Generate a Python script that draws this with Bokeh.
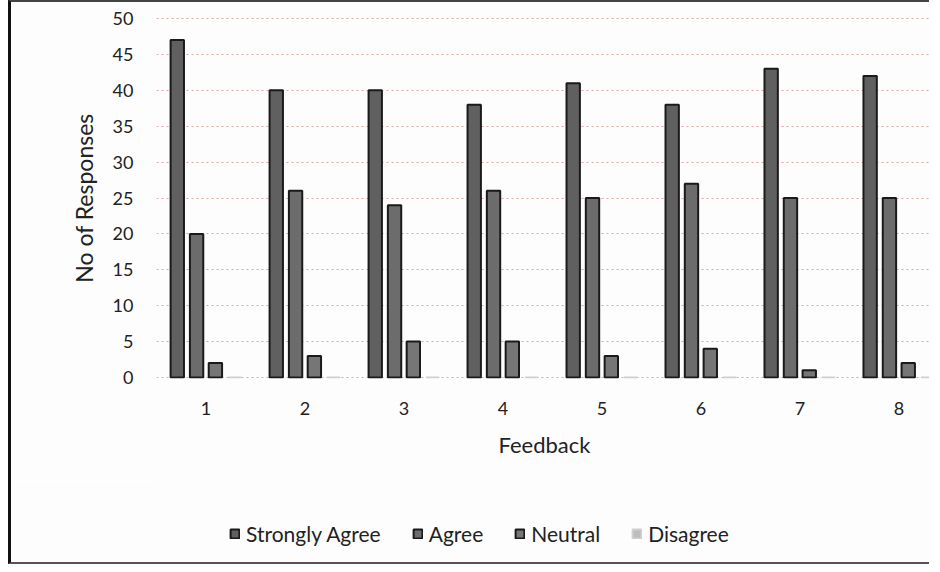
from bokeh.plotting import figure
from bokeh.models import Range1d, Legend, LegendItem, FixedTicker, ColumnDataSource, Spacer
from bokeh.layouts import row, column
from bokeh.embed import file_html
from bokeh.resources import INLINE

feedback = [1, 2, 3, 4, 5, 6, 7, 8]
tick_labels = ["1", "2", "3", "4", "5", "6", "7", "8"]
series_names = ["Strongly Agree", "Agree", "Neutral", "Disagree"]
strongly_agree = [47, 40, 40, 38, 41, 38, 43, 42]
agree = [20, 26, 24, 26, 25, 27, 25, 25]
neutral = [2, 3, 5, 5, 3, 4, 1, 2]
disagree = [0, 0, 0, 0, 0, 0, 0, 0]
y_ticks = [0, 5, 10, 15, 20, 25, 30, 35, 40, 45, 50]

series_values = [strongly_agree, agree, neutral, disagree]
fills = ["#606060", "#6c6c6c", "#767676", "#bdbdbd"]
outlines = ["#1a1a1a", "#1a1a1a", "#1a1a1a", "#cfcfcf"]
offsets = [-0.29, -0.095, 0.095, 0.29]
FONT = "Lato"
BG = "#fdfdfd"

p = figure(width=921, height=480, output_backend="svg", toolbar_location=None,
           x_range=Range1d(0.5, 8.34), y_range=Range1d(-0.15, 50.15),
           min_border_left=145, min_border_right=0, min_border_top=15, min_border_bottom=104,
           background_fill_color=BG, border_fill_color=BG)
p.outline_line_color = None

for name, vals, col, lc, off in zip(series_names, series_values, fills, outlines, offsets):
    src = ColumnDataSource(dict(x=[f + off for f in feedback], top=vals))
    p.vbar(x="x", top="top", bottom=0, width=0.135, source=src, fill_color=col,
           line_color=lc, line_width=2)

p.xgrid.grid_line_color = None
p.ygrid.grid_line_color = "#dca4a4"
p.ygrid.grid_line_dash = "2 3"
p.ygrid.grid_line_width = 1

p.yaxis.ticker = FixedTicker(ticks=y_ticks)
p.xaxis.ticker = FixedTicker(ticks=feedback)
p.xaxis.major_label_overrides = {f: t for f, t in zip(feedback, tick_labels)}

for ax in (p.xaxis[0], p.yaxis[0]):
    ax.axis_line_color = None
    ax.major_tick_line_color = None
    ax.minor_tick_line_color = None
    ax.major_label_text_font = FONT
    ax.major_label_text_font_size = "18px"
    ax.major_label_text_color = "#222222"
    ax.axis_label_text_font = FONT
    ax.axis_label_text_font_size = "22px"
    ax.axis_label_text_font_style = "normal"
    ax.axis_label_text_color = "#222222"

p.yaxis.axis_label = "No of Responses"
p.yaxis.axis_label_text_font_size = "23px"
p.yaxis.major_label_standoff = 17
p.yaxis.axis_label_standoff = 12
p.xaxis.axis_label = "Feedback"
p.xaxis.major_label_standoff = 17
p.xaxis.axis_label_standoff = 13
p.styles = {"border-left": "3px solid #111111", "border-top": "2px solid #444444"}

# legend strip below the chart (hidden copies of the series feed the legend glyphs)
lg = figure(width=921, height=84, output_backend="svg", toolbar_location=None,
            x_range=Range1d(0, 1), y_range=Range1d(0, 1),
            min_border_left=0, min_border_right=0, min_border_top=0, min_border_bottom=0,
            background_fill_color=BG, border_fill_color=BG)
lg.axis.visible = False
lg.grid.visible = False
lg.outline_line_color = None
items = []
for name, vals, col, lc in zip(series_names, series_values, fills, outlines):
    r = lg.vbar(x=feedback, top=vals, width=0.1, fill_color=col, line_color=lc,
                line_width=2, visible=False)
    items.append(LegendItem(label=name, renderers=[r]))
legend = Legend(items=items, orientation="horizontal", location=(73, 18),
                glyph_width=11, glyph_height=11, label_standoff=6, spacing=31,
                label_text_font=FONT, label_text_font_size="21px", label_text_color="#222222",
                background_fill_alpha=0, border_line_color=None, padding=4, margin=0)
lg.add_layout(legend, "center")
lg.styles = {"border-left": "3px solid #111111", "border-bottom": "2px solid #555555"}

layout = row(Spacer(width=8, height=568), column(p, lg, spacing=0), spacing=0)

open("out.html", "w").write(file_html(layout, INLINE))
